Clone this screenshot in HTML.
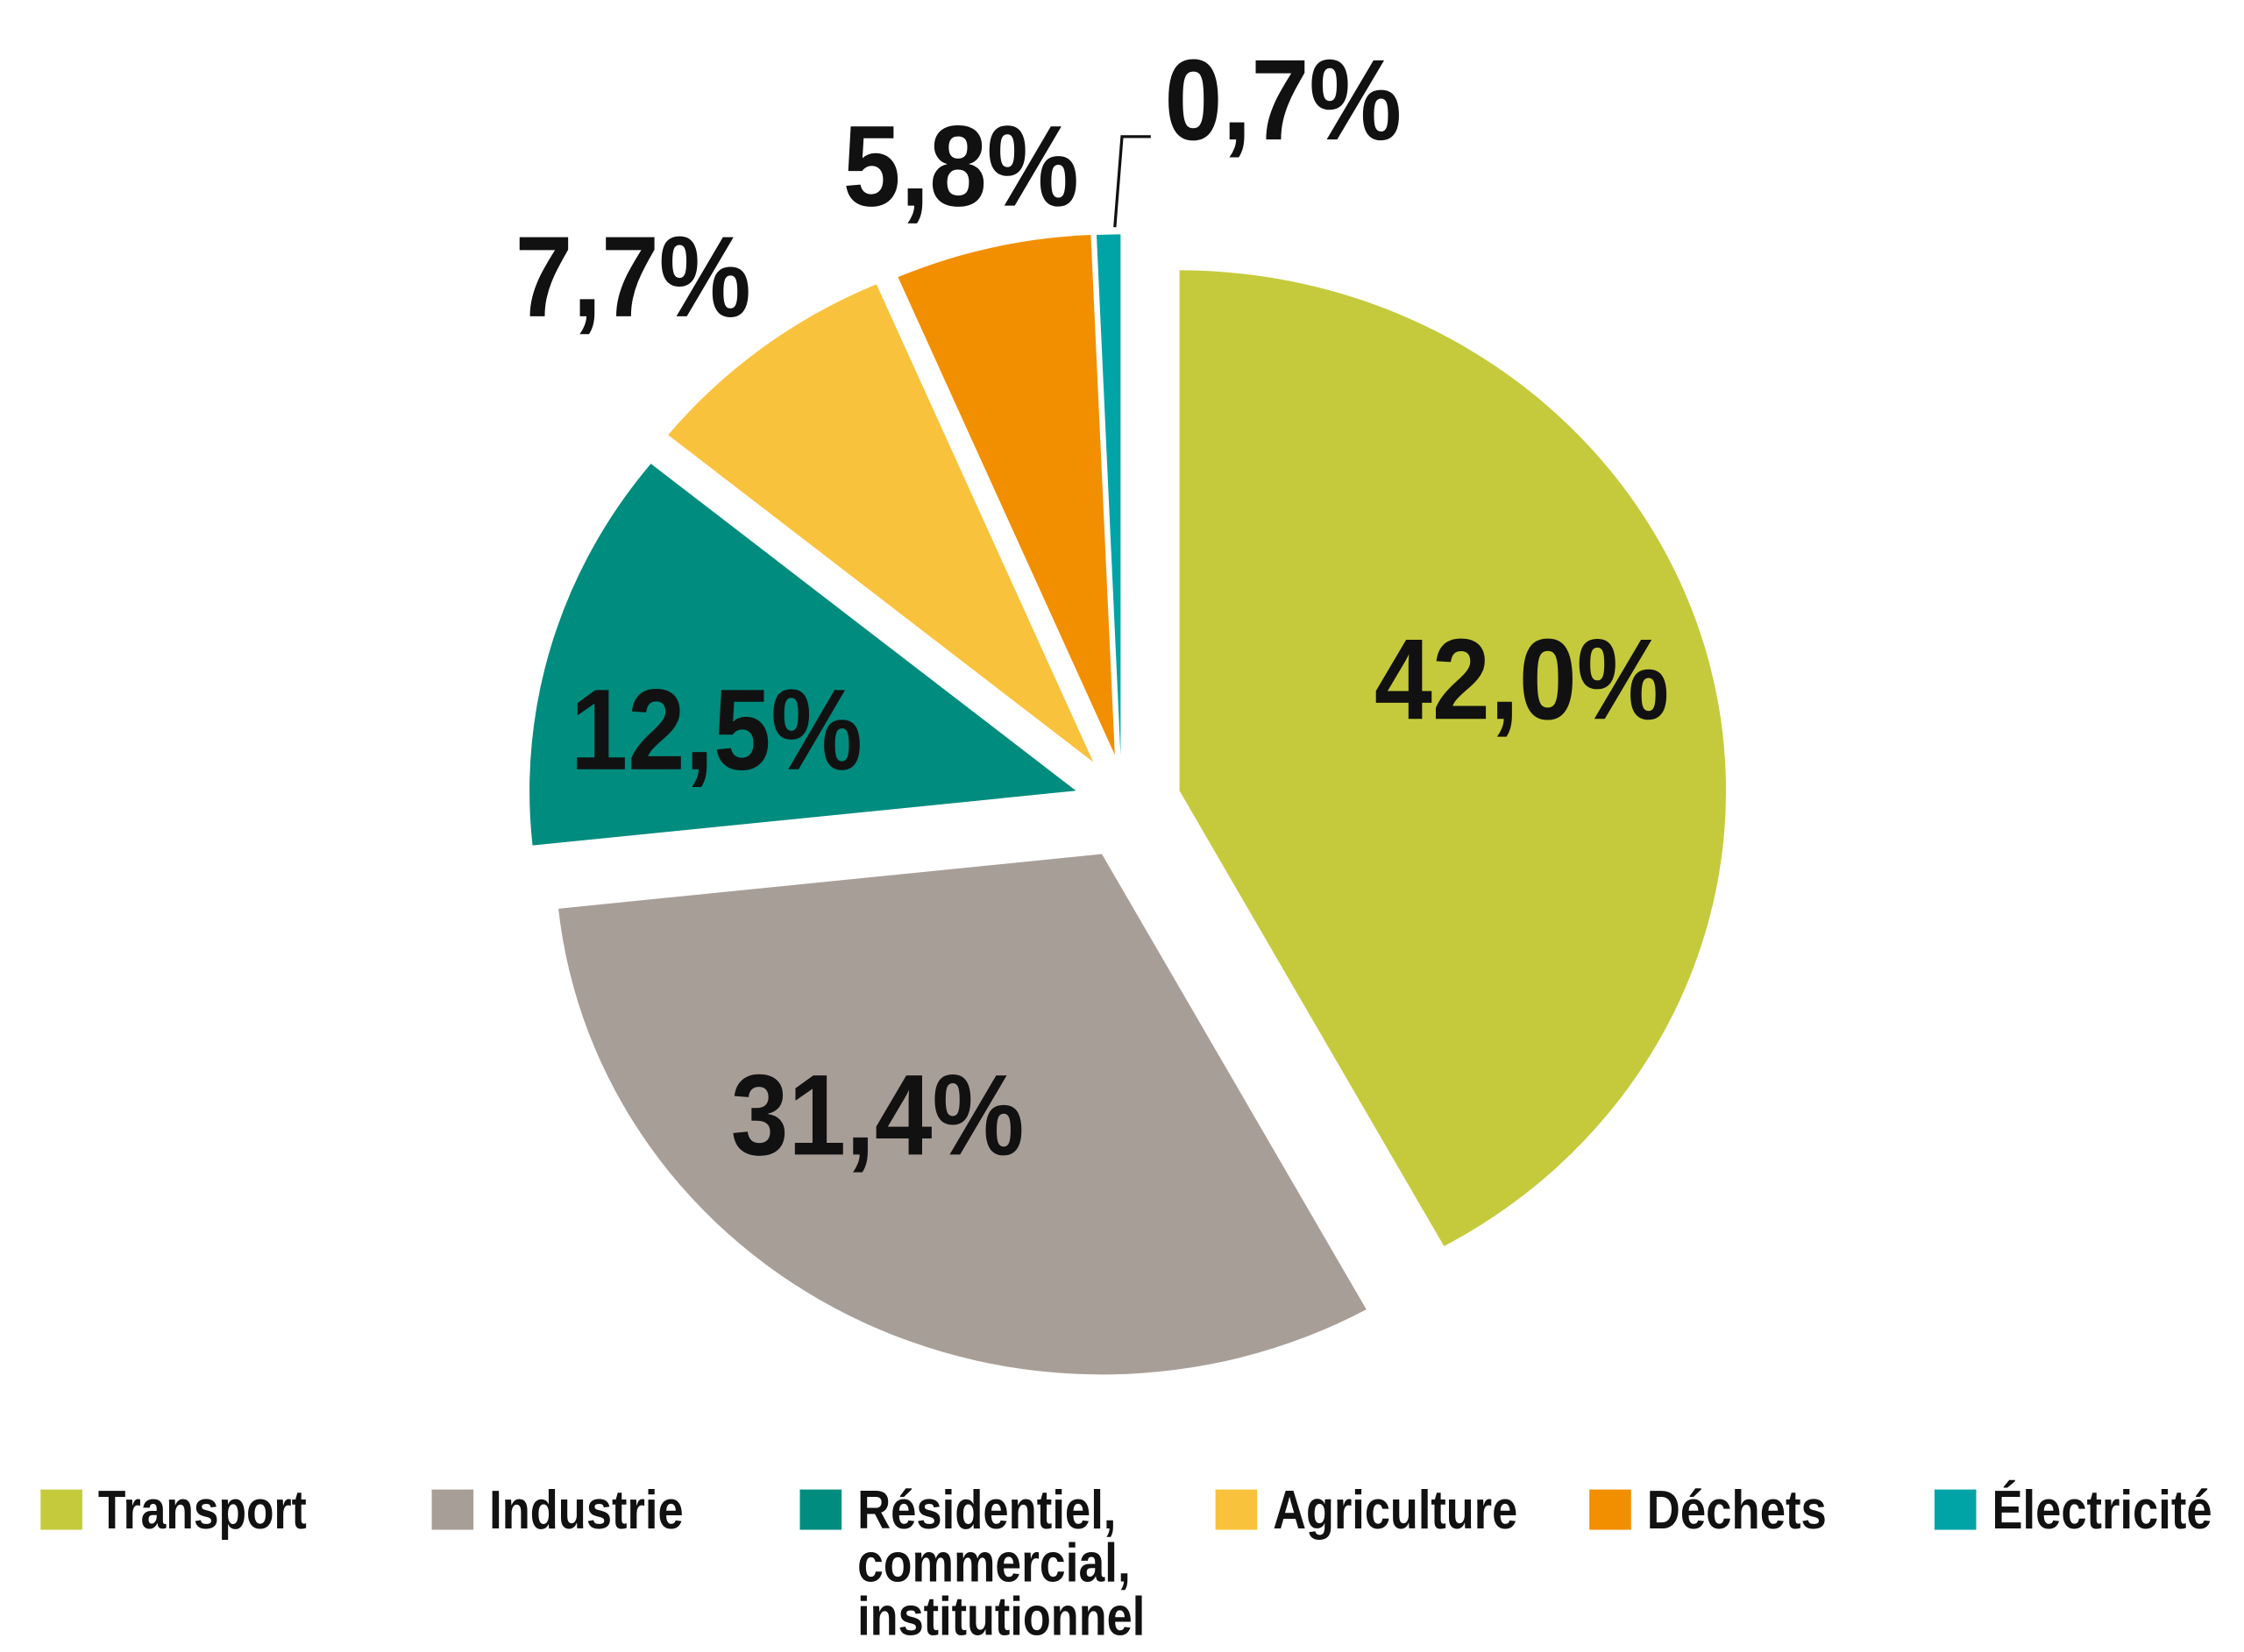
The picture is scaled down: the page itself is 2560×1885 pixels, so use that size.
<!DOCTYPE html>
<html><head><meta charset="utf-8"><style>
html,body{margin:0;padding:0;background:#fff;}
svg{display:block;}
text{font-family:"Liberation Sans Narrow","Liberation Sans",sans-serif;font-weight:bold;fill:#111;}
</style></head><body>
<svg id="chart" width="2560" height="1885" viewBox="0 0 1560 1149" xmlns="http://www.w3.org/2000/svg">
<rect width="1560" height="1149" fill="#fff"/>
<g id="slices"></g>
<g id="labels"></g>
<polyline points="775,158 780,95 800,95" fill="none" stroke="#111" stroke-width="2"/>
<g id="legend"></g>
</svg>
<script>
const categories = ["Transport","Industrie","Résidentiel, commercial, institutionnel","Agriculture","Déchets","Électricité"];
const values = [42.0, 31.4, 12.5, 7.7, 5.8, 0.7];
const colors = ["#c5ca3c","#a89e98","#008c7e","#f9c23c","#f18f00","#00a4a6"];
// layout (explosion apex per slice, label anchor positions)
const apexX = [820,766,748,760,775,779];
const apexY = [550,594,550,530,525,525];
const labelX = [1058,610,498,440,668,892];
const labelY = [500,803,535,220,143,97];
const labelW = [205,204,203,164,164,165];
const RX = 380, RY = 362;
const NS = "http://www.w3.org/2000/svg";
const total = values.reduce((a,b)=>a+b,0);
function angleOf(v){ return v/total*2*Math.PI; }
function px(cx,a){ return cx + RX*Math.sin(a); }
function py(cy,a){ return cy - RY*Math.cos(a); }
const gS = document.getElementById('slices');
const gL = document.getElementById('labels');
let a0 = 0;
values.forEach((v,i)=>{
  const a1 = a0 + angleOf(v);
  const cx = apexX[i], cy = apexY[i];
  const large = (a1-a0) > Math.PI ? 1 : 0;
  const d = `M${cx},${cy} L${px(cx,a0)},${py(cy,a0)} A${RX},${RY} 0 ${large} 1 ${px(cx,a1)},${py(cy,a1)} Z`;
  const p = document.createElementNS(NS,'path');
  p.setAttribute('d', d);
  p.setAttribute('fill', colors[i]);
  
  
  gS.appendChild(p);
  const t = document.createElementNS(NS,'text');
  t.setAttribute('x', labelX[i]);
  t.setAttribute('y', labelY[i]);
  t.setAttribute('text-anchor', 'middle');
  t.setAttribute('font-size', '80');
  t.setAttribute('textLength', labelW[i]);
  t.setAttribute('lengthAdjust', 'spacingAndGlyphs');
  t.textContent = v.toFixed(1).replace('.', ',') + '%';
  
  
  gL.appendChild(t);
  a0 = a1;
});
// legend
const legSqX = [28,300,556,845,1105,1345];
const legTxtW = [145,135,180,170,125,153];
const legLines = [["Transport"],["Industrie"],["Résidentiel,","commercial,","institutionnel"],["Agriculture"],["Déchets"],["Électricité"]];
const gLeg = document.getElementById('legend');
categories.forEach((c,i)=>{
  const g = document.createElementNS(NS,'g');
  
  
  const r = document.createElementNS(NS,'rect');
  r.setAttribute('x', legSqX[i]); r.setAttribute('y', 1036);
  r.setAttribute('width', 29); r.setAttribute('height', 28);
  r.setAttribute('fill', colors[i]);
  
  
  g.appendChild(r);
  legLines[i].forEach((ln,j)=>{
    const t = document.createElementNS(NS,'text');
    t.setAttribute('x', legSqX[i] + 40);
    t.setAttribute('y', 1063 + j*37);
    t.setAttribute('font-size', '38');
    t.setAttribute('font-weight', 'normal');
    if (j===0 || ln.length>11) { t.setAttribute('textLength', j===0 ? legTxtW[i] : 200); t.setAttribute('lengthAdjust','spacingAndGlyphs'); }
    if (j===1) { t.setAttribute('textLength', 190); t.setAttribute('lengthAdjust','spacingAndGlyphs'); }
    t.textContent = ln;
    
    
    g.appendChild(t);
  });
  gLeg.appendChild(g);
});
</script>
</body></html>
